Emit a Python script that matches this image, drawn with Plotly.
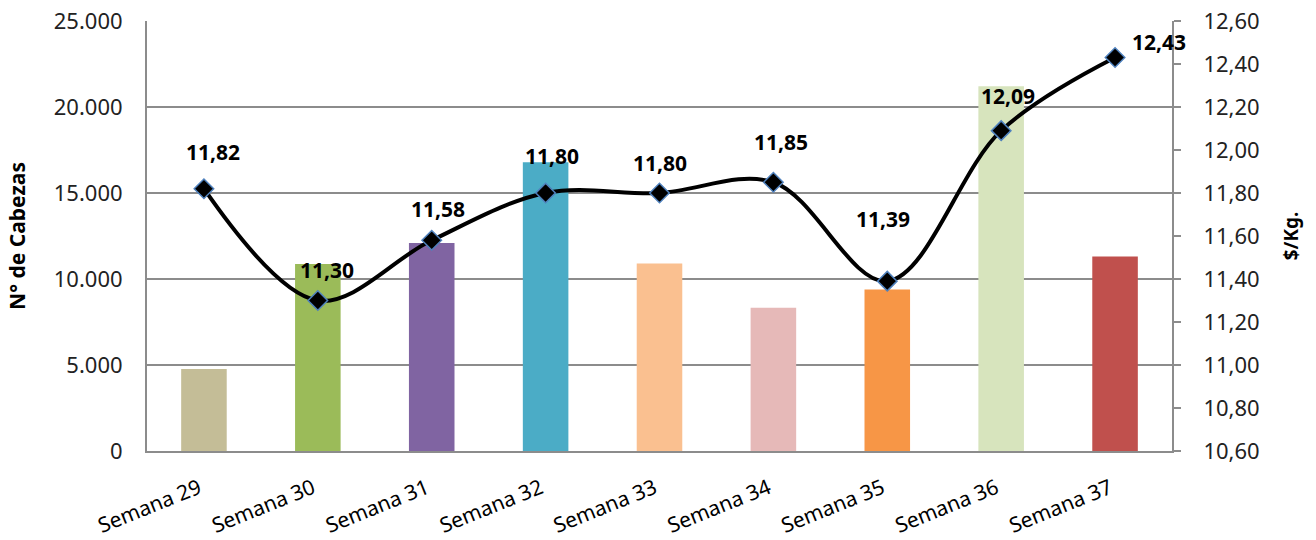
import plotly.graph_objects as go

categories = ["Semana 29", "Semana 30", "Semana 31", "Semana 32", "Semana 33",
              "Semana 34", "Semana 35", "Semana 36", "Semana 37"]
cabezas = [4770, 10870, 12090, 16790, 10900, 8330, 9390, 21210, 11310]
precio = [11.82, 11.30, 11.58, 11.80, 11.80, 11.85, 11.39, 12.09, 12.43]
bar_colors = ["#C4BD97", "#9BBB59", "#8064A2", "#4BACC6", "#FAC090",
              "#E6B9B8", "#F79646", "#D7E4BD", "#C0504D"]
label_dx = [9, 9, 6, 6, 0, 8, -4, 7, 44]
label_dy = [37, 31, 31, 37, 30, 40, 62, 35, 16]

FONT = "Noto Sans"
GRID = "#8C8C8C"

fig = go.Figure()
fig.add_trace(go.Bar(
    x=categories, y=cabezas, marker=dict(color=bar_colors, line=dict(width=0)),
    width=0.4, name="N° de Cabezas", hoverinfo="x+y"))
fig.add_trace(go.Scatter(
    x=categories, y=precio, yaxis="y2", mode="lines+markers", name="$/Kg.",
    line=dict(color="black", width=4, shape="spline", smoothing=1),
    marker=dict(symbol="diamond", size=15, color="black",
                line=dict(color="#4F81BD", width=1.5))))

for c, p, dx, dy in zip(categories, precio, label_dx, label_dy):
    fig.add_annotation(x=c, y=p, yref="y2", xshift=dx, yshift=dy,
                       text="<b>" + f"{p:.2f}".replace(".", ",") + "</b>",
                       showarrow=False, font=dict(family=FONT, size=21, color="black"))

fig.update_layout(
    width=1316, height=540, autosize=False,
    margin=dict(l=147, r=144, t=21, b=89, pad=0),
    paper_bgcolor="white", plot_bgcolor="white",
    separators=",.",
    showlegend=False,
    font=dict(family=FONT, size=20, color="#222222"),
    xaxis=dict(range=[-0.5, len(categories) - 0.5],
               showline=True, linecolor=GRID, linewidth=2, mirror=False,
               tickangle=-22, tickfont=dict(size=21, color="black"),
               ticks="", ticklabelstandoff=15, ticklabelshift=-5,
               automargin=False),
    yaxis=dict(range=[0, 25000], dtick=5000, tickformat=",d",
               showgrid=True, gridcolor=GRID, gridwidth=2,
               showline=True, linecolor=GRID, linewidth=2,
               zeroline=False, ticks="", ticklabelstandoff=18, automargin=False,
               tickfont=dict(size=22, color="#222222"),
               title=dict(text="<b>N° de Cabezas</b>", standoff=22,
                          font=dict(size=21, color="black"))),
    yaxis2=dict(range=[10.6, 12.6], dtick=0.2, tickformat=".2f",
                overlaying="y", side="right", showgrid=False,
                showline=True, linecolor=GRID, linewidth=2,
                zeroline=False, ticks="outside", ticklen=7, tickcolor=GRID,
                tickwidth=2, ticklabelstandoff=18, automargin=False,
                tickfont=dict(size=22, color="#222222"),
                title=dict(text="<b>$/Kg.</b>", standoff=26,
                           font=dict(size=19, color="black"))),
)

fig.write_html("out.html", config={"displayModeBar": False},
               post_script="document.body.style.margin='0';document.body.style.overflow='hidden';")
